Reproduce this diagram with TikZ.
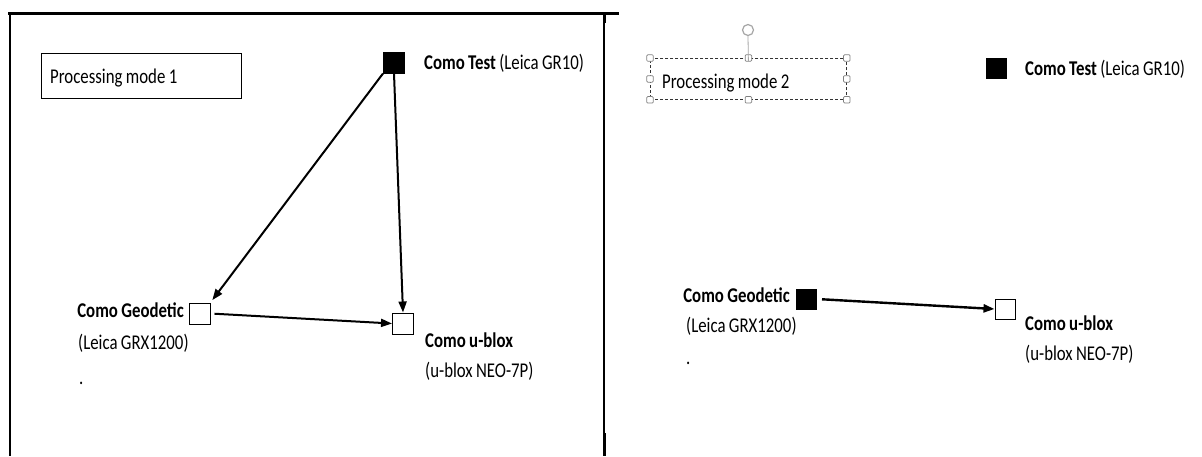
\documentclass[tikz,border=0pt]{standalone}
\usepackage{fontspec}
\setmainfont{Carlito}[FakeStretch=0.8, WordSpace=0.9]
\usetikzlibrary{arrows.meta}
\begin{document}
\begin{tikzpicture}[x=1pt,y=-1pt,
  lbl/.style={inner sep=0pt, font=\fontsize{21}{23}\selectfont},
  blbl/.style={lbl, font=\fontsize{21}{23}\selectfont\bfseries},
  sq/.style={draw, line width=1pt, minimum size=20pt, inner sep=0pt, fill=white},
  sqb/.style={sq, fill=black},
  arr/.style={line width=2pt, -{Triangle[length=11pt,width=8pt]}},
  handle/.style={draw=gray, fill=white, minimum size=6.5pt, inner sep=0pt, line width=0.7pt, rounded corners=1pt},
  modebox/.style={minimum width=200pt, minimum height=45pt, inner sep=0pt}
]
\useasboundingbox (0,0) rectangle (1202,456);
\fill[white] (0,0) rectangle (1202,456);

% frame of left panel
\draw[line width=3pt] (8,13) -- (619,13);
\draw[line width=2pt] (10,13) -- (10,456);
\draw[line width=1.2pt] (604,13) -- (604,456);
\draw[line width=3pt] (604,13) -- (604,23);
\draw[line width=3pt] (604,433) -- (604,456);

% ---- left panel ----
\node[modebox, draw, line width=0.9pt, anchor=north west] (mode1) at (41,53) {};
\node[lbl, anchor=base west] (mode1lbl) at (50,83) {Processing mode 1};

\node[sqb, minimum size=21pt] (test1) at (394,62.5) {};
\node[sq, minimum size=21pt] (geo1) at (199.5,313.5) {};
\node[sq, minimum size=21pt] (ub1) at (403,323.5) {};

\node[lbl, anchor=base west] (test1lbl) at (424,69) {\textbf{Como Test} (Leica GR10)};
\node[blbl, anchor=base east] (geo1lbl) at (184,317) {Como Geodetic};
\node[lbl, anchor=base west] (geo1sub) at (78,349) {(Leica GRX1200)};
\node[lbl, anchor=base west] (dot1) at (79,384) {.};
\node[blbl, anchor=base west] (ub1lbl) at (425,347) {Como u-blox};
\node[lbl, anchor=base west] (ub1sub) at (425,377) {(u-blox NEO-7P)};

\draw[arr, shorten >=3pt] (test1.south west) -- (geo1.north east);
\draw[arr] (test1.south) -- (ub1.north);
\draw[arr, shorten <=4pt] (geo1.east) -- (ub1.west);

% ---- right panel ----
\node[modebox, minimum width=196pt, minimum height=41pt, draw=black!80, densely dashed, line width=0.8pt, anchor=north west] (mode2) at (650,58) {};
\node[lbl, anchor=base west] (mode2lbl) at (662,88) {Processing mode 2};
\foreach \a in {north west,north,north east,west,east,south west,south,south east}
  \node[handle] at (mode2.\a) {};
\node[circle, draw=gray!70, line width=1.2pt, minimum size=11pt, inner sep=0pt] (rot) at (748,30) {};
\draw[gray!70, line width=0.8pt] (rot.south) -- ([yshift=-3pt]mode2.north);

\node[sqb] (test2) at (996.5,68.5) {};
\node[sqb] (geo2) at (806.5,299) {};
\node[sq] (ub2) at (1005,309) {};

\node[lbl, anchor=base west] (test2lbl) at (1025,75) {\textbf{Como Test} (Leica GR10)};
\node[blbl, anchor=base east] (geo2lbl) at (790,302) {Como Geodetic};
\node[lbl, anchor=base west] (geo2sub) at (686,332) {(Leica GRX1200)};
\node[lbl, anchor=base west] (dot2) at (686,364) {.};
\node[blbl, anchor=base west] (ub2lbl) at (1025,330) {Como u-blox};
\node[lbl, anchor=base west] (ub2sub) at (1025,360) {(u-blox NEO-7P)};

\draw[arr, line width=2.4pt, shorten <=5pt] (geo2.east) -- (ub2.west);
\end{tikzpicture}
\end{document}
